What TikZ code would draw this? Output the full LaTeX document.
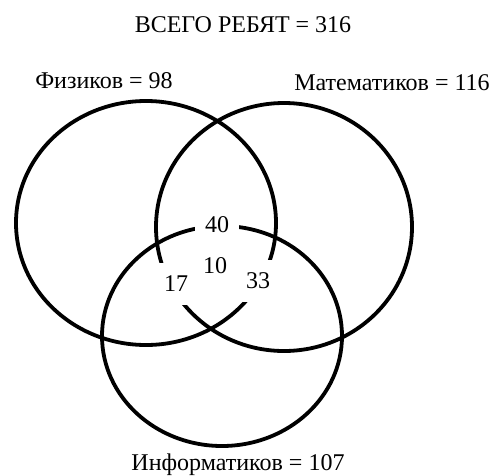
\documentclass[tikz,border=0pt]{standalone}
\usepackage{fontspec}
\setmainfont{Liberation Serif}
\tikzset{
  ring/.style  = {line width=3.8pt},
  lbl/.style   = {font=\fontsize{24}{28}\selectfont, inner sep=0pt, anchor=base},
  cnt/.style   = {lbl, anchor=center, fill=white, minimum width=44pt, minimum height=42pt},
}

\begin{document}
\begin{tikzpicture}[x=1pt, y=-1pt]
  \useasboundingbox (0,0) rectangle (496,475);

  % three sets
  \draw[ring] (146,223) ellipse [x radius=130, y radius=122];
  \draw[ring] (284,227) ellipse [x radius=128, y radius=124];
  \draw[ring] (222,336) ellipse [x radius=120, y radius=110];

  \node[lbl] at (243, 32)  (total) {ВСЕГО РЕБЯТ = 316};
  \node[lbl] at (104, 88)  (phys)  {Физиков = 98};
  \node[lbl] at (392, 90)  (math)  {Математиков = 116};
  \node[lbl] at (238,470)  (info)  {Информатиков = 107};

  % counts in the overlaps
  \node[cnt, minimum height=24pt] at (217,225) (pm)  {40};
  \node[lbl] at (215,273)  (pmi) {10};
  \node[cnt] at (176,284)  (pi)  {17};
  \node[cnt] at (258,281)  (mi)  {33};
\end{tikzpicture}
\end{document}
